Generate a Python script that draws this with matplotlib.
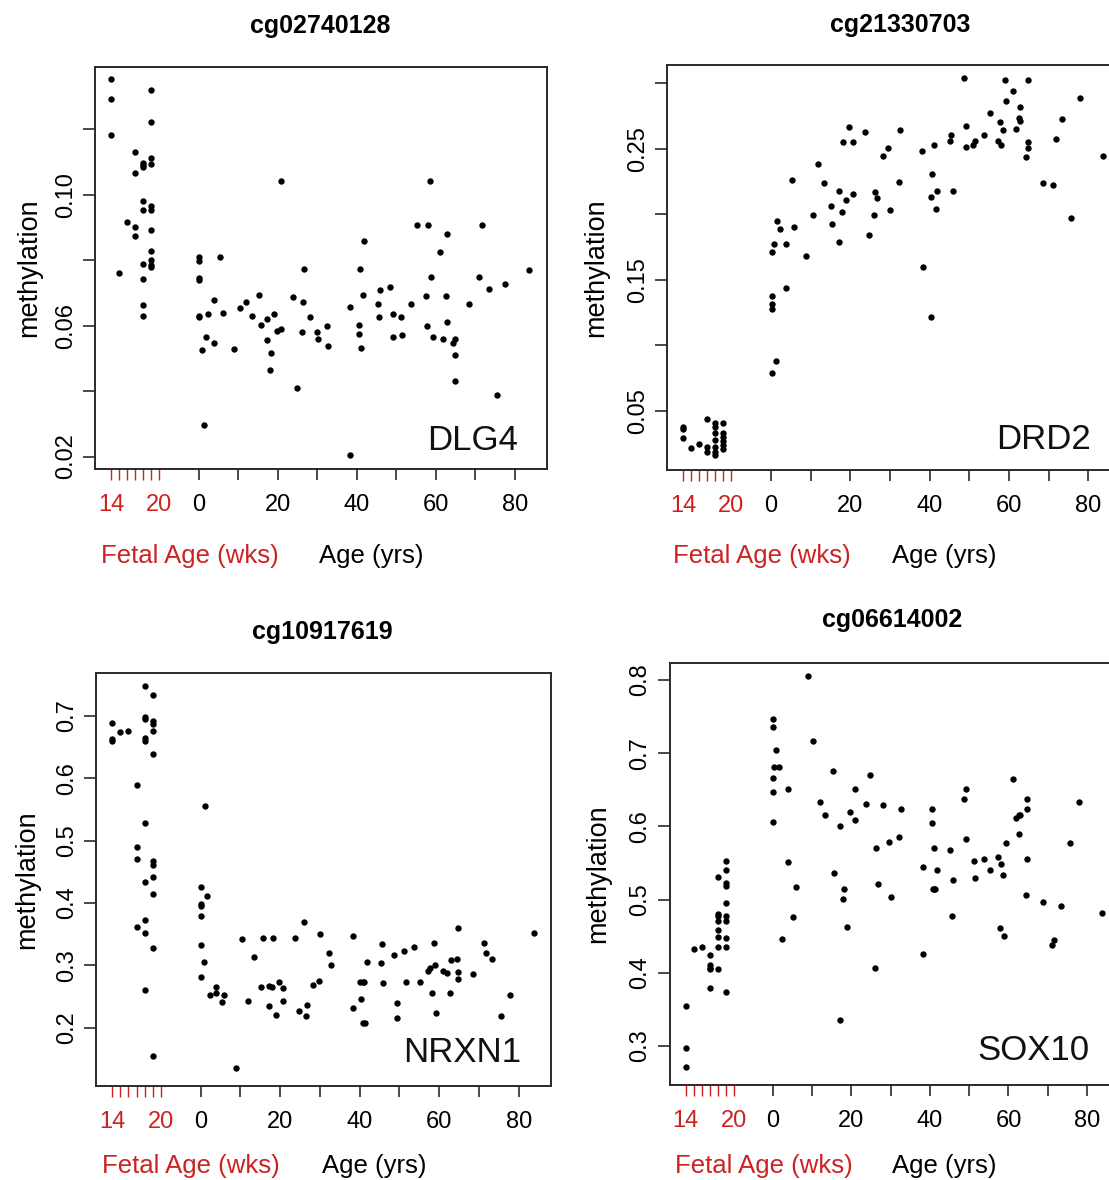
import matplotlib
matplotlib.use('Agg')
import matplotlib.pyplot as plt
import numpy as np
from matplotlib.transforms import blended_transform_factory

W, H, DPI = 1109, 1180, 100
RED = '#cc2222'
FONT = ['Liberation Sans', 'DejaVu Sans']
plt.rcParams['font.family'] = FONT

# ---------------- axis definitions ----------------
fetal_tick_weeks = [14, 15, 16, 17, 18, 19, 20]
fetal_tick_labels = ['14', '', '', '', '', '', '20']
age_ticks = [0, 10, 20, 30, 40, 50, 60, 70, 80]
age_tick_labels = ['0', '', '20', '', '40', '', '60', '', '80']

titles = ['cg02740128', 'cg21330703', 'cg10917619', 'cg06614002']
genes = ['DLG4', 'DRD2', 'NRXN1', 'SOX10']

# ---------------- panel 1: DLG4 ----------------
fetal1_wk = [14, 14, 14, 15, 16, 17, 17, 17, 17,
             18, 18, 18, 18, 18, 18, 18, 18, 18,
             19, 19, 19, 19, 19, 19, 19, 19, 19, 19, 19]
fetal1_meth = [0.1353, 0.1292, 0.1181, 0.0760, 0.0917, 0.1130, 0.1065, 0.0900, 0.0875,
               0.1098, 0.1091, 0.1084, 0.0982, 0.0954, 0.0788, 0.0742, 0.0662, 0.0630,
               0.1319, 0.1221, 0.1111, 0.1093, 0.0964, 0.0954, 0.0893, 0.0829, 0.0801, 0.0786, 0.0778]
age1 = [0, 0, 0, 0, 0, 0, 0.84, 1.35, 1.7, 2.35, 3.9, 3.9, 5.4, 6.1, 9.0, 10.5, 12.0, 13.5,
        15.3, 15.6, 17.2, 17.2, 18.0, 18.3, 19.0, 19.7, 20.9, 20.8, 23.7, 24.9, 26.1, 26.4,
        26.7, 28.1, 29.8, 30.1, 32.3, 32.6, 38.2, 38.2, 40.4, 40.4, 40.7, 41.1, 41.5, 41.9,
        45.2, 45.6, 45.9, 48.4, 49.1, 49.1, 51.1, 51.5, 53.7, 55.1, 57.4, 57.7, 58.1, 58.5,
        58.8, 59.2, 60.9, 61.8, 62.5, 62.8, 62.8, 64.4, 64.8, 64.8, 64.8, 68.4, 71.0, 71.7,
        73.3, 75.4, 77.5, 83.6]
meth1 = [0.0811, 0.0798, 0.0745, 0.0738, 0.0630, 0.0626, 0.0524, 0.0297, 0.0566, 0.0635,
         0.0677, 0.0546, 0.0811, 0.0640, 0.0529, 0.0653, 0.0671, 0.0630, 0.0695, 0.0602,
         0.0621, 0.0556, 0.0464, 0.0515, 0.0635, 0.0584, 0.0589, 0.1042, 0.0686, 0.0408,
         0.0580, 0.0671, 0.0773, 0.0626, 0.0580, 0.0560, 0.0598, 0.0538, 0.0658, 0.0204,
         0.0602, 0.0575, 0.0773, 0.0533, 0.0695, 0.0857, 0.0667, 0.0626, 0.0709, 0.0717,
         0.0635, 0.0566, 0.0626, 0.0570, 0.0667, 0.0908, 0.0691, 0.0598, 0.0908, 0.1042,
         0.0750, 0.0566, 0.0824, 0.0560, 0.0691, 0.0880, 0.0611, 0.0547, 0.0560, 0.0510,
         0.0432, 0.0667, 0.0750, 0.0908, 0.0713, 0.0389, 0.0727, 0.0769]

# ---------------- panel 2: DRD2 ----------------
fetal2_wk = [14, 14, 14, 15, 16, 17, 17, 17,
             18, 18, 18, 18, 18, 18, 18,
             19, 19, 19, 19, 19, 19]
fetal2_meth = [0.0378, 0.0357, 0.0289, 0.0212, 0.0243, 0.0434, 0.0225, 0.0187,
               0.0403, 0.0378, 0.0327, 0.0276, 0.0225, 0.0187, 0.0161,
               0.0403, 0.0332, 0.0301, 0.0271, 0.0238, 0.0205]
age2 = [0.2, 0.2, 0.2, 0.2, 0.2, 0.8, 1.2, 1.5, 2.3, 3.7, 3.7, 5.2, 5.9, 8.9, 10.5, 11.9,
        13.3, 15.2, 15.5, 17.1, 17.1, 17.8, 18.2, 18.9, 19.7, 20.7, 20.8, 23.7, 24.8, 26.0,
        26.3, 26.8, 28.2, 29.6, 30.0, 32.2, 32.5, 38.1, 38.2, 40.4, 40.4, 40.7, 41.1, 41.5,
        41.9, 45.2, 45.5, 45.9, 48.6, 49.2, 49.2, 51.0, 51.4, 53.6, 55.2, 57.2, 57.8, 58.1,
        58.4, 58.9, 59.3, 61.1, 61.8, 62.6, 62.8, 62.8, 64.8, 64.8, 64.8, 64.4, 68.6, 71.1,
        71.8, 73.4, 75.6, 77.9, 83.8]
meth2 = [0.1714, 0.1376, 0.1312, 0.1274, 0.0790, 0.1775, 0.0879, 0.1949, 0.1887, 0.1775,
         0.1437, 0.2262, 0.1903, 0.1681, 0.1994, 0.2386, 0.2236, 0.2063, 0.1923, 0.2180,
         0.1786, 0.2017, 0.2549, 0.2109, 0.2666, 0.2549, 0.2155, 0.2631, 0.1844, 0.1994,
         0.2170, 0.2122, 0.2445, 0.2504, 0.2030, 0.2249, 0.2644, 0.2481, 0.1600, 0.2134,
         0.1218, 0.2308, 0.2526, 0.2040, 0.2180, 0.2562, 0.2608, 0.2180, 0.3038, 0.2677,
         0.2516, 0.2526, 0.2562, 0.2608, 0.2771, 0.2562, 0.2702, 0.2526, 0.2644, 0.3025,
         0.2865, 0.2944, 0.2654, 0.2738, 0.2817, 0.2712, 0.3025, 0.2549, 0.2504, 0.2435,
         0.2236, 0.2224, 0.2575, 0.2725, 0.1971, 0.2888, 0.2445]

# ---------------- panel 3: NRXN1 ----------------
fetal3_wk = [14, 14, 14, 15, 16, 17, 17, 17, 17,
             18, 18, 18, 18, 18, 18, 18, 18, 18, 18,
             19, 19, 19, 19, 19, 19, 19, 19, 19, 19, 19]
fetal3_meth = [0.688, 0.663, 0.659, 0.674, 0.676, 0.589, 0.490, 0.471, 0.362,
               0.747, 0.698, 0.694, 0.664, 0.660, 0.528, 0.433, 0.372, 0.351, 0.260,
               0.733, 0.691, 0.687, 0.676, 0.638, 0.467, 0.461, 0.441, 0.414, 0.327, 0.155]
age3 = [0.17, 0.17, 0.17, 0.17, 0.17, 0.17, 1.2, 1.6, 0.9, 2.4, 3.9, 3.9, 5.3, 6.0, 9.0,
        10.5, 12.0, 13.4, 15.3, 15.6, 17.1, 17.9, 17.1, 18.2, 19.0, 19.75, 20.8, 20.8, 23.75,
        24.8, 26.1, 26.4, 26.8, 28.25, 29.7, 30.1, 32.25, 32.7, 38.2, 38.2, 40.2, 40.75, 41.2,
        40.4, 40.75, 41.25, 41.9, 45.25, 45.6, 45.9, 48.5, 49.3, 49.3, 51.2, 51.6, 53.75, 55.2,
        57.25, 57.7, 58.2, 58.6, 58.9, 59.3, 61.0, 61.9, 62.6, 62.9, 64.5, 64.75, 64.75, 64.75,
        68.5, 71.2, 71.8, 73.3, 75.6, 77.75, 83.75]
meth3 = [0.426, 0.399, 0.395, 0.379, 0.332, 0.281, 0.555, 0.411, 0.305, 0.252, 0.266, 0.256,
         0.241, 0.253, 0.135, 0.342, 0.243, 0.313, 0.266, 0.344, 0.267, 0.266, 0.234, 0.344,
         0.221, 0.273, 0.263, 0.243, 0.344, 0.227, 0.369, 0.219, 0.236, 0.268, 0.275, 0.350,
         0.320, 0.301, 0.347, 0.231, 0.274, 0.274, 0.274, 0.246, 0.207, 0.207, 0.305, 0.303,
         0.334, 0.271, 0.316, 0.239, 0.216, 0.323, 0.273, 0.329, 0.273, 0.291, 0.295, 0.256,
         0.335, 0.301, 0.224, 0.291, 0.288, 0.256, 0.308, 0.310, 0.359, 0.289, 0.278, 0.286,
         0.335, 0.320, 0.310, 0.219, 0.253, 0.352]

# ---------------- panel 4: SOX10 ----------------
fetal4_wk = [14, 14, 14, 15, 16, 17, 17, 17, 17, 17,
             18, 18, 18, 18, 18, 18, 18, 18,
             19, 19, 19, 19, 19, 19, 19, 19, 19, 19]
fetal4_meth = [0.355, 0.297, 0.271, 0.433, 0.435, 0.424, 0.411, 0.407, 0.405, 0.379,
               0.531, 0.480, 0.477, 0.470, 0.459, 0.449, 0.435, 0.405,
               0.553, 0.540, 0.522, 0.519, 0.495, 0.478, 0.470, 0.448, 0.435, 0.374]
age4 = [0, 0, 0, 0, 0, 0.8, 0.25, 1.45, 2.3, 3.75, 3.75, 5.2, 6.0, 8.9, 10.3, 11.9, 13.4,
        15.2, 15.5, 17.0, 17.0, 18.1, 17.8, 18.9, 19.6, 20.8, 20.8, 23.7, 24.8, 26.1, 26.3,
        26.7, 28.1, 29.6, 30.0, 32.2, 32.6, 38.2, 38.2, 40.4, 40.4, 41.1, 40.7, 41.05, 41.4,
        41.7, 45.1, 45.7, 46.0, 48.6, 49.3, 49.3, 51.1, 51.5, 53.7, 55.2, 57.4, 57.8, 58.2,
        58.5, 58.9, 59.4, 61.2, 61.8, 62.6, 63.0, 62.7, 64.8, 64.8, 64.8, 64.5, 68.7, 71.1,
        71.7, 73.4, 75.6, 77.9, 83.7]
meth4 = [0.747, 0.736, 0.666, 0.647, 0.606, 0.704, 0.681, 0.681, 0.446, 0.651, 0.551, 0.476,
         0.517, 0.805, 0.717, 0.633, 0.616, 0.676, 0.536, 0.601, 0.336, 0.514, 0.501, 0.463,
         0.620, 0.651, 0.609, 0.631, 0.670, 0.407, 0.570, 0.521, 0.629, 0.579, 0.504, 0.586,
         0.624, 0.545, 0.426, 0.624, 0.605, 0.570, 0.514, 0.514, 0.514, 0.540, 0.568, 0.478,
         0.527, 0.637, 0.651, 0.583, 0.553, 0.530, 0.555, 0.540, 0.558, 0.461, 0.549, 0.534,
         0.450, 0.577, 0.665, 0.611, 0.616, 0.615, 0.590, 0.637, 0.624, 0.555, 0.506, 0.497,
         0.438, 0.445, 0.491, 0.577, 0.633, 0.482]

panels = [
    dict(fw=fetal1_wk, fm=fetal1_meth, age=age1, meth=meth1),
    dict(fw=fetal2_wk, fm=fetal2_meth, age=age2, meth=meth2),
    dict(fw=fetal3_wk, fm=fetal3_meth, age=age3, meth=meth3),
    dict(fw=fetal4_wk, fm=fetal4_meth, age=age4, meth=meth4),
]

# ---------------- layout (pixels) ----------------
layout = [
    dict(box=(95, 67, 547, 469), ylim=(0.0162, 0.139), yt=(0.02, 0.121, 0.02), ylab_every=2,
         title=(320, 26), ylab_x=29, xlab_y=556, gene_y=0.047),
    dict(box=(666.7, 65, 1120.4, 470), ylim=(0.0047, 0.314), yt=(0.05, 0.301, 0.05), ylab_every=2,
         title=(900, 25), ylab_x=596, xlab_y=556, gene_y=0.052),
    dict(box=(96, 673, 551, 1085.7), ylim=(0.107, 0.7685), yt=(0.2, 0.701, 0.1), ylab_every=1,
         title=(322, 632), ylab_x=27, xlab_y=1166, gene_y=0.057),
    dict(box=(669.6, 663, 1118.8, 1085), ylim=(0.2467, 0.823), yt=(0.3, 0.801, 0.1), ylab_every=1,
         title=(892, 620), ylab_x=598, xlab_y=1166, gene_y=0.059),
]


def week_to_x(w):
    return -22.2 + (np.asarray(w, dtype=float) - 14) * 2.03


fig = plt.figure(figsize=(W / DPI, H / DPI), dpi=DPI)
fig.patch.set_facecolor('white')

for i, (p, L) in enumerate(zip(panels, layout)):
    x0, y0, x1, y1 = L['box']
    ax = fig.add_axes([x0 / W, 1 - y1 / H, (x1 - x0) / W, (y1 - y0) / H])
    ax.set_xlim(-26.3, 88.1)
    ax.set_ylim(*L['ylim'])
    ax.scatter(week_to_x(p['fw']), p['fm'], s=21, c='black', linewidths=0, zorder=3)
    ax.scatter(p['age'], p['meth'], s=21, c='black', linewidths=0, zorder=3)

    for sp in ax.spines.values():
        sp.set_color('#2a2a2a')
        sp.set_linewidth(1.4)

    # x axis: age ticks (major) and fetal ticks (minor, red)
    ax.set_xticks(age_ticks, labels=age_tick_labels)
    ax.set_xticks(week_to_x(fetal_tick_weeks), labels=fetal_tick_labels, minor=True)
    ax.tick_params(axis='x', which='major', direction='out', length=8, width=1.2,
                   color='#2a2a2a', labelsize=17, pad=10)
    ax.tick_params(axis='x', which='minor', direction='out', length=8, width=1.0,
                   color=RED, labelcolor=RED, labelsize=17, pad=10)

    # y axis
    a, b, st = L['yt']
    yticks = np.arange(a, b, st)
    ylabels = [(('%.2f' % v) if L['ylab_every'] == 2 else ('%.1f' % v)) if (k % L['ylab_every'] == 0) else ''
               for k, v in enumerate(yticks)]
    ax.set_yticks(yticks, labels=ylabels)
    ax.tick_params(axis='y', direction='out', length=9, width=1.2, color='#2a2a2a',
                   labelsize=17, pad=4)
    for t in ax.get_yticklabels():
        t.set_rotation(90)
        t.set_va('center')

    # gene label
    tr = blended_transform_factory(ax.transData, ax.transAxes)
    ax.text(80.7, L['gene_y'], genes[i], transform=tr, ha='right', va='baseline',
            fontsize=25, color='#111111')

    # x axis titles
    ylab_frac = (y1 - L['xlab_y']) / (y1 - y0)
    ax.text(-2.4, ylab_frac, 'Fetal Age (wks)', transform=tr, color=RED, fontsize=18.5,
            ha='center', va='center')
    ax.text(43.6, ylab_frac, 'Age (yrs)', transform=tr, color='black',
            fontsize=18.5, ha='center', va='center')

    # y label
    fig.text(L['ylab_x'] / W, 1 - ((y0 + y1) / 2) / H, 'methylation', rotation=90,
             ha='center', va='center', fontsize=19.5)

    # title
    fig.text(L['title'][0] / W, 1 - L['title'][1] / H, titles[i], ha='center', va='center',
             fontsize=18, fontweight='bold', family=['Liberation Sans', 'DejaVu Sans'])

fig.savefig('out.png', dpi=DPI, facecolor='white')
